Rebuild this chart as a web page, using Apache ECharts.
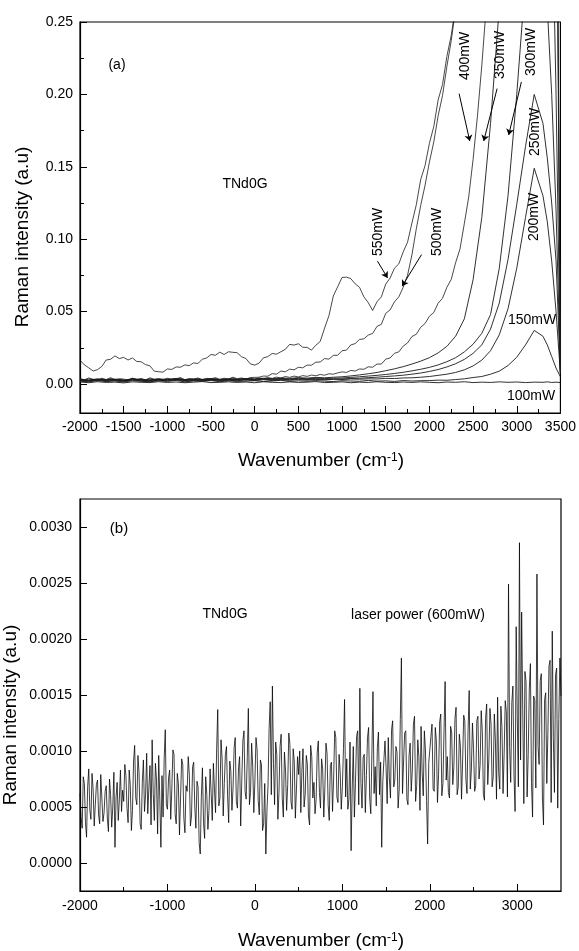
<!DOCTYPE html>
<html>
<head>
<meta charset="utf-8">
<script src="https://cdn.jsdelivr.net/npm/echarts@6/dist/echarts.min.js"></script>
<style>
html, body { margin: 0; padding: 0; background: #fff; }
#chart { width: 579px; height: 951px; }
</style>
</head>
<body>
<div id="chart"></div>
<script>
var FONT = '"Liberation Sans", Arial, sans-serif';

function steps(from, to, step) {
    var out = [];
    for (var v = from; v <= to; v += step) out.push(v);
    return out;
}

// ---- panel (a) ----
// coarse wavenumber grid for the smooth spectra
var wnA = [-2000,-1900,-1800,-1700,-1600,-1500,-1400,-1300,-1200,-1100,
           -1000,-900,-800,-700,-600,-500,-400,-300,-200,-100,
           0,100,200,300,400,500,600,700,800,900,
           1000,1100,1200,1300,1400,1500,1600,1700,1800,1900,
           2000,2100,2200,2300,2400,2500,2600,2700,2800,2900,
           3000,3100,3200,3300,3350,3400,3450,3500];
// finer grid (every 50 cm-1) for the noisy high-power spectra
var wnFine = steps(-2000, 3500, 50);

var p100 = [0.0014,0.0009,0.0016,0.0011,0.0013,0.0008,0.0015,0.0012,0.0010,0.0016,
            0.0011,0.0014,0.0009,0.0013,0.0017,0.0010,0.0012,0.0015,0.0011,0.0014,
            0.0009,0.0016,0.0012,0.0010,0.0015,0.0011,0.0013,0.0017,0.0010,0.0012,
            0.0015,0.0009,0.0013,0.0011,0.0016,0.0012,0.0010,0.0014,0.0011,0.0015,
            0.0012,0.0009,0.0014,0.0012,0.0016,0.0010,0.0013,0.0011,0.0015,0.0012,
            0.0014,0.0010,0.0013,0.0012,0.0015,0.0011,0.0013,0.0010];

var p150 = [0.0020,0.0015,0.0024,0.0017,0.0021,0.0014,0.0023,0.0019,0.0016,0.0022,
            0.0018,0.0025,0.0015,0.0021,0.0019,0.0024,0.0016,0.0022,0.0018,0.0020,
            0.0023,0.0017,0.0021,0.0026,0.0018,0.0022,0.0019,0.0024,0.0020,0.0017,
            0.0023,0.0021,0.0019,0.0025,0.0020,0.0022,0.0018,0.0024,0.0021,0.0023,
            0.0024,0.0027,0.0026,0.0031,0.0036,0.0045,0.0052,0.0068,0.0089,0.0128,
            0.0185,0.0270,0.0370,0.0330,0.0270,0.0190,0.0110,0.0050];

var p200 = [0.0024,0.0019,0.0027,0.0021,0.0025,0.0018,0.0028,0.0022,0.0020,0.0026,
            0.0023,0.0029,0.0020,0.0025,0.0022,0.0027,0.0021,0.0026,0.0023,0.0028,
            0.0024,0.0030,0.0025,0.0029,0.0026,0.0031,0.0027,0.0032,0.0028,0.0033,
            0.0031,0.0035,0.0033,0.0036,0.0035,0.0039,0.0038,0.0042,0.0043,0.0047,
            0.0052,0.0060,0.0068,0.0080,0.0098,0.0125,0.0165,0.0230,0.0340,0.0520,
            0.0800,0.1150,0.1490,0.1300,0.1120,0.0850,0.0500,0.0070];

var p250 = [0.0027,0.0022,0.0030,0.0025,0.0029,0.0021,0.0031,0.0026,0.0024,0.0030,
            0.0027,0.0033,0.0024,0.0029,0.0026,0.0031,0.0025,0.0030,0.0027,0.0032,
            0.0028,0.0034,0.0029,0.0033,0.0030,0.0035,0.0031,0.0036,0.0032,0.0034,
            0.0035,0.0038,0.0040,0.0044,0.0047,0.0052,0.0056,0.0061,0.0068,0.0076,
            0.0087,0.0100,0.0118,0.0140,0.0170,0.0212,0.0270,0.0380,0.0560,0.0860,
            0.1240,0.1640,0.2000,0.1800,0.1560,0.1250,0.0850,0.0070];

var p300 = [0.0030,0.0025,0.0033,0.0027,0.0032,0.0024,0.0034,0.0029,0.0026,0.0033,
            0.0030,0.0036,0.0027,0.0032,0.0029,0.0034,0.0028,0.0033,0.0030,0.0035,
            0.0032,0.0037,0.0033,0.0038,0.0035,0.0040,0.0036,0.0041,0.0038,0.0040,
            0.0042,0.0046,0.0050,0.0055,0.0060,0.0066,0.0073,0.0081,0.0091,0.0102,
            0.0115,0.0132,0.0154,0.0182,0.0222,0.0275,0.0350,0.0480,0.0800,0.1300,
            0.2000,0.2800,0.3400,0.3000,0.2600,0.2000,0.1200,0.0080];

var p350 = [0.0033,0.0027,0.0036,0.0030,0.0034,0.0026,0.0037,0.0031,0.0029,0.0035,
            0.0032,0.0038,0.0030,0.0035,0.0032,0.0037,0.0031,0.0036,0.0033,0.0038,
            0.0035,0.0040,0.0037,0.0042,0.0039,0.0044,0.0041,0.0046,0.0043,0.0047,
            0.0050,0.0056,0.0063,0.0071,0.0080,0.0092,0.0105,0.0120,0.0138,0.0158,
            0.0182,0.0215,0.0260,0.0330,0.0450,0.0720,0.1150,0.1800,0.2600,0.3400,
            0.4200,0.5000,0.5500,0.5000,0.4500,0.3500,0.2000,0.0080];

// fine grid series
var p400 = [0.0032,0.0024,0.0036,0.0028,0.0021,0.0034,0.0027,0.0038,0.0025,0.0031,
            0.0029,0.0022,0.0035,0.0026,0.0033,0.0024,0.0037,0.0028,0.0031,0.0023,
            0.0034,0.0027,0.0030,0.0039,0.0025,0.0032,0.0028,0.0036,0.0026,0.0033,
            0.0030,0.0038,0.0027,0.0034,0.0029,0.0041,0.0031,0.0036,0.0028,0.0039,
            0.0033,0.0042,0.0036,0.0045,0.0039,0.0048,0.0041,0.0052,0.0046,0.0055,
            0.0049,0.0058,0.0053,0.0062,0.0057,0.0066,0.0061,0.0071,0.0068,0.0077,
            0.0084,0.0080,0.0094,0.0090,0.0104,0.0102,0.0119,0.0116,0.0138,0.0138,
            0.0172,0.0180,0.0212,0.0222,0.0262,0.0284,0.0328,0.0344,0.0392,0.0418,
            0.0468,0.0494,0.0558,0.0592,0.0668,0.0722,0.0838,0.0932,0.1108,0.1292,
            0.155,0.185,0.22,0.26,0.30,0.34,0.38,0.42,0.46,0.50,
            0.54,0.58,0.62,0.66,0.70,0.72,0.70,0.66,0.60,0.45,0.01];

var p500 = [0.0038,0.0029,0.0042,0.0033,0.0026,0.0040,0.0031,0.0044,0.0030,0.0037,
            0.0034,0.0027,0.0041,0.0031,0.0039,0.0028,0.0043,0.0033,0.0036,0.0029,
            0.0040,0.0032,0.0036,0.0045,0.0030,0.0038,0.0034,0.0042,0.0031,0.0039,
            0.0036,0.0044,0.0033,0.0040,0.0035,0.0047,0.0037,0.0042,0.0034,0.0045,
            0.0046,0.0047,0.0055,0.0054,0.0072,0.0068,0.0090,0.0084,0.0103,0.0098,
            0.0116,0.0112,0.0131,0.0130,0.0151,0.0152,0.0176,0.0172,0.0198,0.0199,
            0.0230,0.0234,0.0270,0.0279,0.0308,0.0312,0.0338,0.0349,0.0398,0.0412,
            0.0488,0.0512,0.0568,0.0602,0.0668,0.0752,0.0892,0.1072,0.1232,0.1372,
            0.1532,0.1672,0.1852,0.1992,0.2192,0.2372,0.2592,0.2800,0.3000,0.3200,
            0.34,0.36,0.38,0.40,0.42,0.44,0.46,0.48,0.50,0.52,
            0.54,0.56,0.58,0.60,0.62,0.64,0.62,0.58,0.54,0.40,0.01];

var p550 = [0.0165,0.0132,0.0112,0.0090,0.0099,0.0122,0.0166,0.0171,0.0194,0.0176,
            0.0184,0.0166,0.0180,0.0156,0.0154,0.0134,0.0126,0.0089,0.0085,0.0082,
            0.0104,0.0101,0.0118,0.0116,0.0132,0.0127,0.0146,0.0142,0.0171,0.0180,
            0.0204,0.0199,0.0220,0.0204,0.0223,0.0219,0.0216,0.0188,0.0176,0.0139,
            0.0131,0.0144,0.0181,0.0189,0.0211,0.0206,0.0223,0.0239,0.0274,0.0269,
            0.0278,0.0254,0.0253,0.0234,0.0268,0.0294,0.0386,0.0472,0.0608,0.0672,
            0.0736,0.0738,0.0728,0.0692,0.0668,0.0602,0.0562,0.0508,0.0568,0.0602,
            0.0690,0.0732,0.0800,0.0830,0.0912,0.0980,0.1112,0.1238,0.1412,0.1508,
            0.1662,0.1778,0.1962,0.2068,0.2262,0.2408,0.2612,0.2790,0.3000,0.3200,
            0.34,0.36,0.38,0.40,0.42,0.44,0.46,0.48,0.50,0.52,
            0.54,0.56,0.58,0.60,0.62,0.64,0.66,0.64,0.60,0.45,0.01];

// arrows from each power label to its curve: [tail, head]
var arrowsA = [
    [[1406, 0.0848], [1521, 0.0733]],   // 550mW
    [[1910, 0.0894], [1688, 0.0676]],   // 500mW
    [[2340, 0.2005], [2462, 0.1678]],   // 400mW
    [[2775, 0.2040], [2622, 0.1678]],   // 350mW
    [[3053, 0.2086], [2908, 0.1720]]    // 300mW
];

var yTicksA = [0, 0.05, 0.10, 0.15, 0.20, 0.25];
var yMinorA = [0.025, 0.075, 0.125, 0.175, 0.225];

// ---- panel (b) ----
var wnB = steps(-2000, 3500, 12.5);
var p600 = [
    0.00062,0.00041,0.00031,0.00077,0.00071,0.00036,0.00023,0.00068,0.00084,0.00047,0.00039,0.00080,0.00066,0.00033,0.00052,0.00070,0.00074,0.00043,0.00035,0.00079,
    0.00058,0.00037,0.00045,0.00064,0.00069,0.00040,0.00028,0.00075,0.00061,0.00032,0.00050,0.00081,0.00014,0.00059,0.00072,0.00038,0.00057,0.00083,0.00046,0.00065,
    0.00055,0.00088,0.00078,0.00049,0.00036,0.00083,0.00069,0.00029,0.00047,0.00091,0.00105,0.00058,0.00052,0.00096,0.00081,0.00035,0.00030,0.00072,0.00092,0.00046,
    0.00061,0.00098,0.00044,0.00067,0.00087,0.00034,0.00110,0.00062,0.00038,0.00089,0.00074,0.00026,0.00096,0.00057,0.00014,0.00078,0.00041,0.00093,0.00119,0.00052,
    0.00048,0.00076,0.00083,0.00039,0.00066,0.00101,0.00097,0.00044,0.00035,0.00080,0.00071,0.00025,0.00058,0.00093,0.00088,0.00040,0.00027,0.00069,0.00064,0.00095,
    0.00079,0.00033,0.00042,0.00086,0.00090,0.00050,0.00031,0.00073,0.00068,0.00018,0.00008,0.00059,0.00085,0.00036,0.00022,0.00077,0.00061,0.00030,0.00047,0.00084,
    0.00062,0.00038,0.00089,0.00066,0.00045,0.00102,0.00137,0.00051,0.00058,0.00110,0.00093,0.00042,0.00071,0.00097,0.00104,0.00060,0.00036,0.00091,0.00082,0.00047,
    0.00067,0.00103,0.00112,0.00055,0.00049,0.00085,0.00095,0.00033,0.00074,0.00109,0.00118,0.00064,0.00057,0.00094,0.00138,0.00052,0.00063,0.00107,0.00086,0.00045,
    0.00074,0.00112,0.00101,0.00056,0.00043,0.00092,0.00088,0.00029,0.00035,0.00071,0.00008,0.00046,0.00069,0.00120,0.00144,0.00061,0.00158,0.00089,0.00052,0.00108,
    0.00097,0.00039,0.00063,0.00104,0.00115,0.00058,0.00041,0.00099,0.00083,0.00047,0.00070,0.00116,0.00106,0.00055,0.00048,0.00102,0.00091,0.00040,0.00066,0.00095,
    0.00079,0.00100,0.00045,0.00083,0.00102,0.00050,0.00061,0.00096,0.00088,0.00042,0.00034,0.00105,0.00095,0.00058,0.00072,0.00044,0.00057,0.00099,0.00109,0.00063,
    0.00049,0.00093,0.00084,0.00041,0.00067,0.00107,0.00098,0.00052,0.00038,0.00087,0.00090,0.00046,0.00075,0.00118,0.00112,0.00059,0.00054,0.00097,0.00081,0.00048,
    0.00068,0.00102,0.00146,0.00059,0.00093,0.00048,0.00057,0.00108,0.00011,0.00066,0.00104,0.00041,0.00072,0.00113,0.00118,0.00052,0.00156,0.00071,0.00049,0.00094,
    0.00097,0.00045,0.00078,0.00112,0.00121,0.00058,0.00044,0.00097,0.00153,0.00062,0.00086,0.00051,0.00103,0.00117,0.00061,0.00090,0.00014,0.00073,0.00092,0.00109,
    0.00085,0.00053,0.00112,0.00076,0.00058,0.00119,0.00127,0.00068,0.00074,0.00104,0.00099,0.00049,0.00066,0.00128,0.00183,0.00062,0.00091,0.00116,0.00118,0.00057,
    0.00052,0.00096,0.00107,0.00064,0.00083,0.00124,0.00131,0.00055,0.00069,0.00110,0.00095,0.00047,0.00122,0.00081,0.00060,0.00118,0.00101,0.00056,0.00017,0.00089,
    0.00088,0.00113,0.00124,0.00066,0.00064,0.00121,0.00109,0.00054,0.00079,0.00126,0.00133,0.00060,0.00071,0.00118,0.00162,0.00074,0.00095,0.00063,0.00058,0.00122,
    0.00117,0.00070,0.00086,0.00129,0.00139,0.00061,0.00068,0.00115,0.00104,0.00057,0.00091,0.00132,0.00127,0.00075,0.00062,0.00119,0.00154,0.00066,0.00083,0.00125,
    0.00102,0.00064,0.00069,0.00127,0.00131,0.00075,0.00087,0.00136,0.00118,0.00061,0.00056,0.00129,0.00142,0.00070,0.00093,0.00138,0.00124,0.00068,0.00077,0.00133,
    0.00109,0.00057,0.00148,0.00081,0.00066,0.00140,0.00121,0.00062,0.00098,0.00145,0.00135,0.00059,0.00249,0.00103,0.00072,0.00143,0.00158,0.00079,0.00046,0.00211,
    0.00131,0.00068,0.00286,0.00092,0.00224,0.00137,0.00053,0.00171,0.00162,0.00059,0.00097,0.00155,0.00178,0.00072,0.00041,0.00149,0.00145,0.00067,0.00258,0.00104,
    0.00088,0.00163,0.00169,0.00058,0.00034,0.00146,0.00152,0.00071,0.00116,0.00176,0.00181,0.00054,0.00207,0.00112,0.00063,0.00168,0.00174,0.00049,0.00128,0.00183,
    0.00149];

var xTicksB = [-2000, -1000, 0, 1000, 2000, 3000];
var xMinorB = [-1500, -500, 500, 1500, 2500];
var yTicksB = [0, 0.0005, 0.0010, 0.0015, 0.0020, 0.0025, 0.0030];

function zip(xs, ys) {
    return ys.map(function (y, i) { return [xs[i], y]; });
}

var myChart = echarts.init(document.getElementById('chart'));

var black = '#000';
var labelStyle = { color: black, fontSize: 14, fontFamily: FONT };
function plain(v) { return String(v); }

function line(name, xs, ys, xi, yi, width, color) {
    return {
        name: name,
        type: 'line',
        xAxisIndex: xi,
        yAxisIndex: yi,
        data: zip(xs, ys),
        symbol: 'none',
        silent: true,
        lineStyle: { color: color || '#1a1a1a', width: width || 0.9 }
    };
}

function text(x, y, str, rotate, size) {
    return {
        type: 'text',
        x: x,
        y: y,
        rotation: rotate ? Math.PI / 2 : 0,
        silent: true,
        style: {
            text: str,
            fill: black,
            font: (size || 14) + 'px ' + FONT,
            align: 'center', textAlign: 'center',
            verticalAlign: 'middle', textVerticalAlign: 'middle'
        }
    };
}

function wavenumberTitle(y) {
    return {
        type: 'text',
        x: 321,
        y: y,
        silent: true,
        style: {
            text: 'Wavenumber (cm{s|-1})',
            fill: black,
            font: '19px ' + FONT,
            align: 'center', textAlign: 'center',
            verticalAlign: 'middle', textVerticalAlign: 'middle',
            rich: { s: { font: '12px ' + FONT, fill: black, verticalAlign: 'top' } }
        }
    };
}

var seriesA = [
    line('100mW', wnA, p100, 0, 0),
    line('150mW', wnA, p150, 0, 0),
    line('200mW', wnA, p200, 0, 0),
    line('250mW', wnA, p250, 0, 0),
    line('300mW', wnA, p300, 0, 0),
    line('350mW', wnA, p350, 0, 0),
    line('400mW', wnFine, p400, 0, 0, 0.8),
    line('500mW', wnFine, p500, 0, 0, 0.8),
    line('550mW', wnFine, p550, 0, 0, 0.8)
];
seriesA[0].markLine = {
    silent: true,
    animation: false,
    symbol: ['none', 'arrow'],
    symbolSize: 6,
    label: { show: false },
    lineStyle: { color: black, width: 1, type: 'solid' },
    data: arrowsA.map(function (a) { return [{ coord: a[0] }, { coord: a[1] }]; })
};

var option = {
    animation: false,
    backgroundColor: '#fff',
    grid: [
        { left: 80, top: 22, width: 481, height: 391, show: true, borderColor: black, borderWidth: 1.2 },
        { left: 80, top: 499, width: 481, height: 392, show: true, borderColor: black, borderWidth: 1.2 }
    ],
    xAxis: [
        {
            gridIndex: 0, type: 'value', position: 'bottom',
            min: -2000, max: 3500, interval: 500,
            axisLine: { onZero: false, lineStyle: { color: black, width: 1.2 } },
            axisTick: { inside: true, length: 7, lineStyle: { color: black } },
            minorTick: { show: true, splitNumber: 2, length: 4, lineStyle: { color: black } },
            axisLabel: Object.assign({ margin: 7, formatter: plain }, labelStyle),
            splitLine: { show: false }, minorSplitLine: { show: false }
        },
        {
            gridIndex: 1, type: 'value', position: 'bottom',
            min: -2000, max: 3500,
            axisLine: { onZero: false, lineStyle: { color: black, width: 1.2 } },
            axisTick: { inside: true, length: 7, customValues: xTicksB, lineStyle: { color: black } },
            axisLabel: Object.assign({ margin: 8, customValues: xTicksB, formatter: plain }, labelStyle),
            splitLine: { show: false }
        },
        {
            gridIndex: 1, type: 'value', position: 'bottom',
            min: -2000, max: 3500,
            axisLine: { show: false, onZero: false },
            axisTick: { inside: true, length: 4, customValues: xMinorB, lineStyle: { color: black } },
            axisLabel: { show: false },
            splitLine: { show: false }
        }
    ],
    yAxis: [
        {
            gridIndex: 0, type: 'value', position: 'left',
            min: -0.02, max: 0.25,
            axisLine: { show: true, onZero: false, lineStyle: { color: black, width: 1.2 } },
            axisTick: { show: true, inside: true, length: 7, customValues: yTicksA, lineStyle: { color: black } },
            axisLabel: Object.assign({
                margin: 7, customValues: yTicksA,
                formatter: function (v) { return v.toFixed(2); }
            }, labelStyle),
            splitLine: { show: false }
        },
        {
            gridIndex: 0, type: 'value', position: 'left',
            min: -0.02, max: 0.25,
            axisLine: { show: false, onZero: false },
            axisTick: { show: true, inside: true, length: 4, customValues: yMinorA, lineStyle: { color: black } },
            axisLabel: { show: false },
            splitLine: { show: false }
        },
        {
            gridIndex: 1, type: 'value', position: 'left',
            min: -0.00025, max: 0.00325,
            axisLine: { show: true, onZero: false, lineStyle: { color: black, width: 1.2 } },
            axisTick: { show: true, inside: true, length: 7, customValues: yTicksB, lineStyle: { color: black } },
            axisLabel: Object.assign({
                margin: 8, customValues: yTicksB,
                formatter: function (v) { return v.toFixed(4); }
            }, labelStyle),
            splitLine: { show: false }
        }
    ],
    series: seriesA.concat([
        line('600mW', wnB, p600, 1, 2, 0.75, '#000')
    ]),
    graphic: [
        // panel (a)
        text(117, 65, '(a)'),
        text(245, 184, 'TNd0G'),
        text(465, 56, '400mW', true),
        text(500, 55, '350mW', true),
        text(531, 52, '300mW', true),
        text(535, 132, '250mW', true),
        text(534, 217, '200mW', true),
        text(378, 232, '550mW', true),
        text(437, 232, '500mW', true),
        text(532, 320, '150mW'),
        text(531, 396, '100mW'),
        text(23, 237, 'Raman intensity (a.u)', true, 19),
        wavenumberTitle(461),
        // panel (b)
        text(119, 529, '(b)', false, 15),
        text(225, 614, 'TNd0G'),
        text(418, 615, 'laser power (600mW)'),
        text(11, 715, 'Raman intensity (a.u)', true, 19),
        wavenumberTitle(941)
    ]
};

myChart.setOption(option);
</script>
</body>
</html>
